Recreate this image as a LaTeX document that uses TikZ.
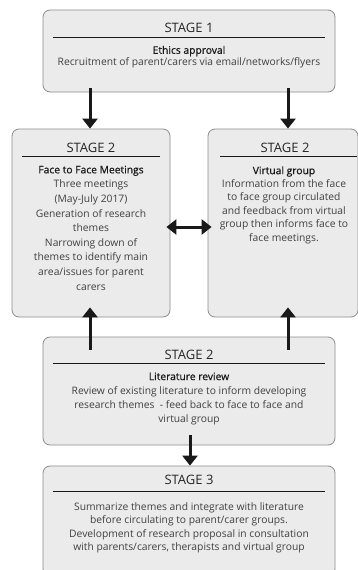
\documentclass[tikz,border=0pt]{standalone}
\usepackage{fontspec}
\setmainfont{Open Sans}
\newfontfamily\titlefont[FakeBold=0.7]{Open Sans}
\usetikzlibrary{arrows.meta}

\begin{document}
\begin{tikzpicture}[x=1pt,y=-1pt,
    box/.style={draw=black!45, fill=black!8, rounded corners=7pt, line width=0.8pt},
    head/.style={font=\fontsize{13}{15}\selectfont, text=black!85},
    body/.style={align=center, text=black!75},
    flow/.style={-{Triangle[width=15pt,length=10pt]}, line width=3pt, black!90},
    dflow/.style={{Triangle[width=15pt,length=10pt]}-{Triangle[width=15pt,length=10pt]}, line width=3pt, black!90},
    rule/.style={line width=0.7pt, black!90}]
    \useasboundingbox (0,0) rectangle (358,570);

    \node[box, minimum width=292pt, minimum height=82pt] (s1) at (189,51) {};
    \node[box, minimum width=158pt, minimum height=188pt] (s2l) at (91,223) {};
    \node[box, minimum width=150pt, minimum height=188pt] (s2r) at (283,223) {};
    \node[box, minimum width=292pt, minimum height=108pt] (lit) at (189,391) {};
    \node[box, minimum width=292pt, minimum height=110pt] (s3) at (189,521) {};

    \node[head] (s1h) at (189,28) {STAGE 1};
    \draw[rule] (53,37) -- (325,37);
    \node[body, font=\fontsize{10.3}{11.8}\selectfont] (s1b) at (189,57) {{\titlefont\color{black!90}Ethics approval}\\
        Recruitment of parent/carers via email/networks/flyers};

    \node[head] (s2lh) at (91,148) {STAGE 2};
    \draw[rule] (22,156) -- (160,156);
    \node[body, font=\fontsize{10.3}{14.6}\selectfont] (s2lb) at (91,228) {{\titlefont\color{black!90}Face to Face Meetings}\\
        Three meetings\\(May-July 2017)\\Generation of research\\themes\\Narrowing down of\\
        themes to identify main\\area/issues for parent\\carers};

    \node[head] (s2rh) at (285,148) {STAGE 2};
    \draw[rule] (220,156) -- (357,156);
    \node[body, font=\fontsize{10.3}{13.4}\selectfont] (s2rb) at (284,205) {{\titlefont\color{black!90}Virtual group}\\
        Information from the face\\to face group circulated\\and feedback from virtual\\
        group then informs face to\\face meetings.};

    \node[head] (lith) at (189,355) {STAGE 2};
    \draw[rule] (53,363) -- (325,363);
    \node[body, font=\fontsize{10.3}{14.3}\selectfont] (litb) at (189,399) {{\titlefont\color{black!90}Literature review}\\
        Review of existing literature to inform developing\\
        research themes \ - feed back to face to face and\\virtual group};

    \node[head] (s3h) at (189,480) {STAGE 3};
    \draw[rule] (53,491) -- (325,491);
    \node[body, font=\fontsize{10.3}{13.4}\selectfont] (s3b) at (189,528) {Summarize themes and integrate with literature\\
        before circulating to parent/carer groups.\\
        Development of research proposal in consultation\\
        with parents/carers, therapists and virtual group};

    \coordinate (d1) at (90,88);
    \coordinate (d2) at (288,88);
    \coordinate (u1) at (90,350);
    \coordinate (u2) at (288,350);
    \coordinate (d3) at (190,435);
    \draw[flow] (d1) to (d1 |- s2l.north);
    \draw[flow] (d2) to (d2 |- s2r.north);
    \draw[flow] (u1) to ([yshift=10pt]u1 |- s2l.south);
    \draw[flow] (u2) to ([yshift=10pt]u2 |- s2r.south);
    \draw[flow] (d3) to (d3 |- s3.north);
    \draw[dflow] ([xshift=-4pt]s2l.east |- 0,227) to ([xshift=4pt]s2r.west |- 0,227);
\end{tikzpicture}
\end{document}
